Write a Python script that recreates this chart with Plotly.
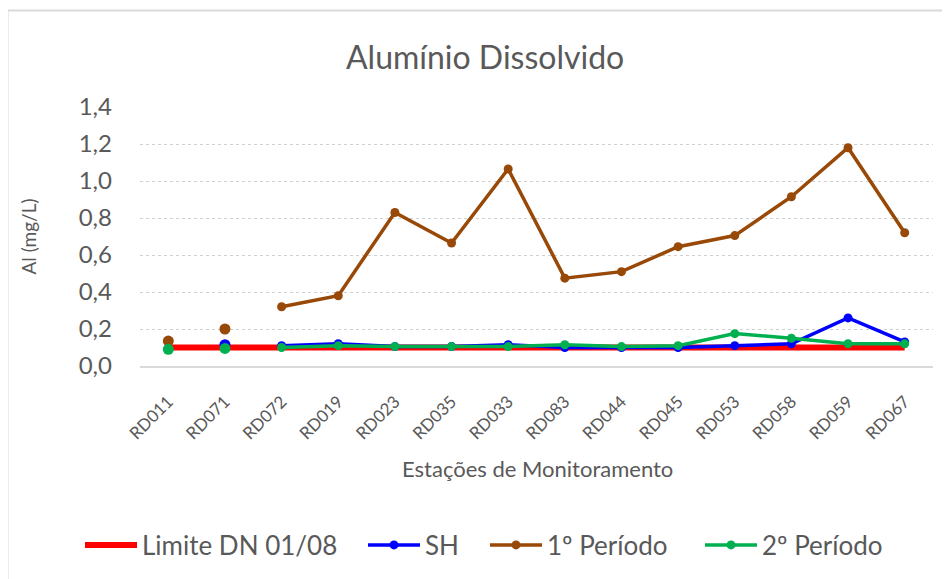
import plotly.graph_objects as go

stations = ["RD011", "RD071", "RD072", "RD019", "RD023", "RD035", "RD033",
            "RD083", "RD044", "RD045", "RD053", "RD058", "RD059", "RD067"]
limite = [0.1, 0.1, 0.1, 0.1, 0.1, 0.1, 0.1, 0.1, 0.1, 0.1, 0.1, 0.1, 0.1, 0.1]
sh = [None, 0.115, 0.11, 0.12, 0.105, 0.105, 0.115, 0.10, 0.10, 0.10, 0.11, 0.12, 0.26, 0.13]
p1 = [0.135, 0.20, 0.32, 0.38, 0.83, 0.665, 1.065, 0.475, 0.51, 0.645, 0.705, 0.915, 1.18, 0.72]
p2 = [0.09, 0.095, 0.10, 0.11, 0.105, 0.105, 0.105, 0.115, 0.105, 0.11, 0.175, 0.15, 0.12, 0.12]
y_ticks = [0.0, 0.2, 0.4, 0.6, 0.8, 1.0, 1.2, 1.4]
n_isolated = 2  # first stations are plotted as unconnected points

FONT = "Lato"
GREY = "#595959"
PW, PL = 793, 140  # plot width / left (px in page) for paper conversions


def px2paper(px):
    return (px - PL) / PW


fig = go.Figure()
fig.add_trace(go.Scatter(x=stations, y=limite, mode="lines", name="Limite DN 01/08",
                         line=dict(color="#ff0000", width=6), legend="legend"))

series = [("SH", sh, "#0000ff", "legend2"), ("1º Período", p1, "#984807", "legend3"),
          ("2º Período", p2, "#00b050", "legend4")]
for name, vals, col, leg in series:
    fig.add_trace(go.Scatter(x=stations[n_isolated:], y=vals[n_isolated:], mode="lines+markers",
                             name=name, line=dict(color=col, width=3.5),
                             marker=dict(color=col, size=9), legend=leg))
for name, vals, col, leg in series:
    fig.add_trace(go.Scatter(x=stations[:n_isolated], y=vals[:n_isolated], mode="markers",
                             name=name, showlegend=False,
                             marker=dict(color=col, size=11)))

leg_y = (366 - 545) / 259
leg_starts = [85, 368, 490, 705]
legends = {}
for i, sx in enumerate(leg_starts):
    key = "legend" if i == 0 else "legend%d" % (i + 1)
    legends[key] = dict(orientation="h", x=px2paper(sx - 5), xanchor="left", y=leg_y,
                        yanchor="middle", itemwidth=52,
                        font=dict(size=26, color=GREY, family=FONT), bgcolor="rgba(0,0,0,0)")

fig.update_layout(
    width=950, height=579,
    margin=dict(l=132, r=25, t=99, b=221, autoexpand=False),
    paper_bgcolor="white", plot_bgcolor="white",
    separators=", ",
    font=dict(family=FONT, color=GREY),
    showlegend=True,
    xaxis=dict(type="category", range=[-0.5, len(stations) - 0.5], showgrid=False,
               showline=True, linecolor="#d9d9d9", linewidth=2,
               tickangle=-45, tickfont=dict(size=17, color=GREY), ticks="",
               ticklabelstandoff=17, automargin=False),
    yaxis=dict(range=[0, 1.4], tickvals=y_ticks, tickformat=".1f", showgrid=True,
               gridcolor="#d0d0d0", griddash="dot", gridwidth=1, zeroline=False,
               tickfont=dict(size=24, color=GREY), ticks="", ticklabelstandoff=27,
               automargin=False),
    annotations=[
        dict(text="Alumínio Dissolvido", xref="paper", yref="paper", x=px2paper(485),
             y=1.0 + (107 - 57) / 259, xanchor="center", yanchor="middle", showarrow=False,
             font=dict(size=32, color=GREY)),
        dict(text="Al (mg/L)", xref="paper", yref="paper", x=px2paper(28), y=0.5,
             xanchor="center", yanchor="middle", textangle=-90, showarrow=False,
             font=dict(size=19, color=GREY)),
        dict(text="Estações de Monitoramento", xref="paper", yref="paper", x=px2paper(537),
             y=(366 - 468) / 259, xanchor="center", yanchor="middle", showarrow=False,
             font=dict(size=22, color=GREY)),
    ],
    shapes=[dict(type="rect", xref="paper", yref="paper", x0=px2paper(7.5), y0=-1.2,
                 x1=1.1, y1=1.0 + (107 - 10.5) / 259, line=dict(color="#d9d9d9", width=2),
                 fillcolor="rgba(0,0,0,0)", layer="below")],
    **legends,
)

fig.write_html("out.html")
